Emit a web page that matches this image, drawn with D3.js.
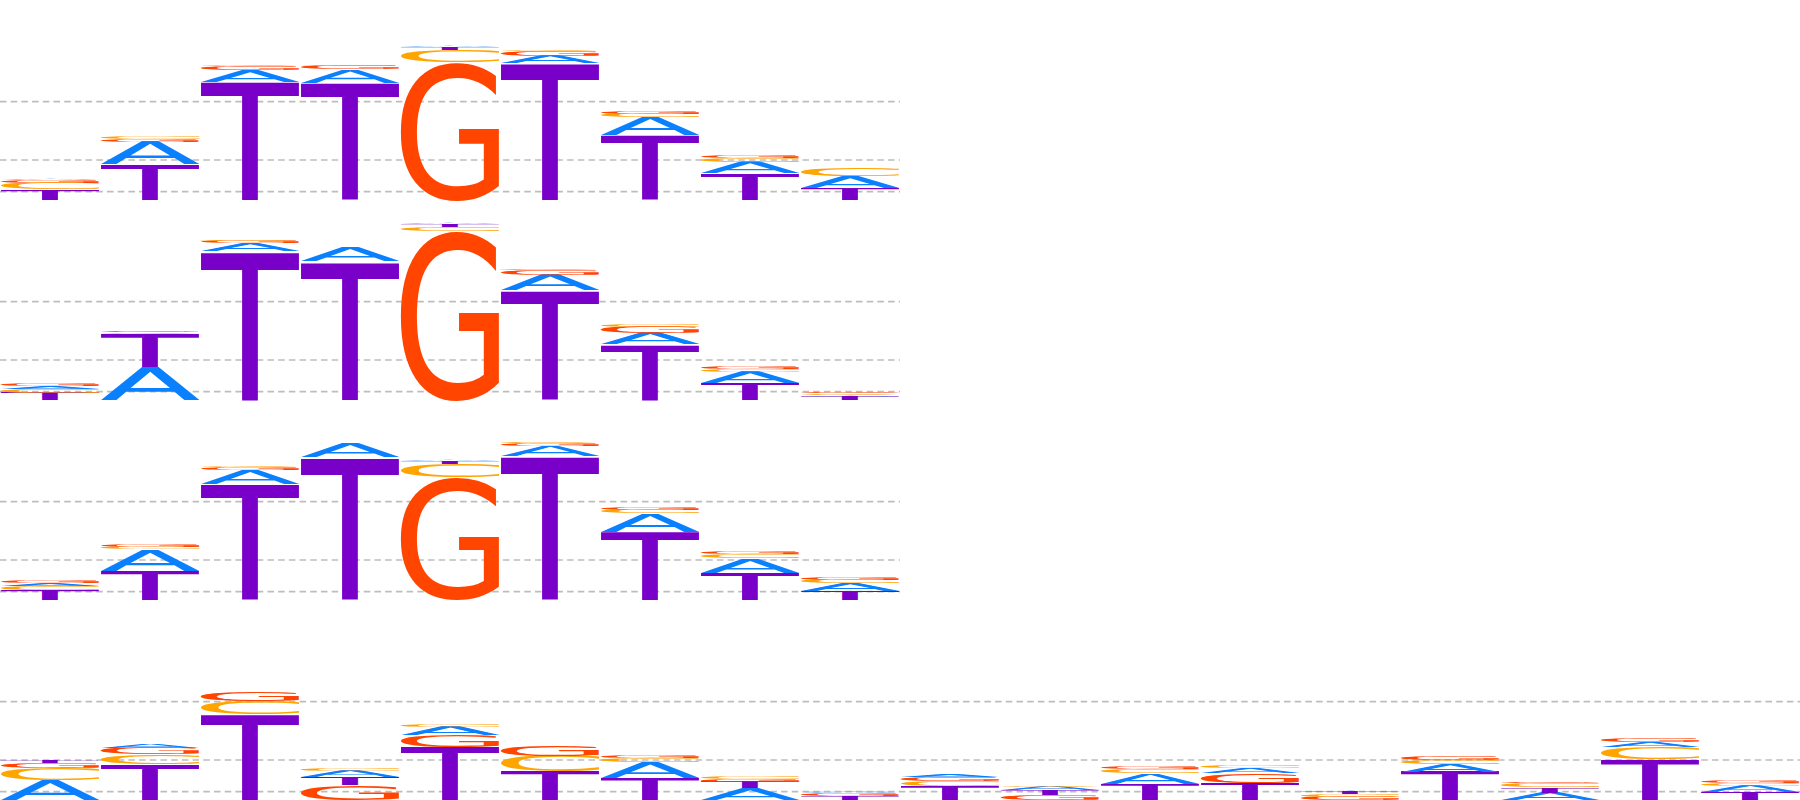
<!DOCTYPE html>
<html>
<head>
<meta charset="utf-8">
<script src="https://cdn.jsdelivr.net/npm/d3@7"></script>
<style>
  html, body { margin: 0; padding: 0; background: #ffffff; }
  svg { display: block; }
</style>
</head>
<body>
<svg id="chart" width="1800" height="800"></svg>
<script>
// ---- data (information content in bits, per position) ----
const bases = ["A", "C", "G", "T"];
const baseColors = ["#0A80FF", "#FFA500", "#FF4500", "#7800C8"];

// Row 1 (9 positions)
const row1A = [0.020, 0.272, 0.140, 0.160, 0.006, 0.088, 0.212, 0.140, 0.140];
const row1C = [0.072, 0.026, 0.012, 0.012, 0.140, 0.012, 0.040, 0.040, 0.090];
const row1G = [0.032, 0.028, 0.048, 0.040, 1.660, 0.060, 0.030, 0.032, 0.006];
const row1T = [0.132, 0.428, 1.420, 1.408, 0.036, 1.640, 0.780, 0.320, 0.144];

// Row 2 (9 positions)
const row2A = [0.034, 0.397, 0.088, 0.164, 0.006, 0.180, 0.136, 0.140, 0.020];
const row2C = [0.044, 0.022, 0.006, 0.003, 0.052, 0.006, 0.030, 0.036, 0.020];
const row2G = [0.026, 0.020, 0.032, 0.004, 2.028, 0.060, 0.072, 0.030, 0.018];
const row2T = [0.088, 0.396, 1.790, 1.668, 0.032, 1.320, 0.672, 0.200, 0.040];

// Row 3 (9 positions)
const row3A = [0.034, 0.256, 0.172, 0.168, 0.006, 0.124, 0.220, 0.172, 0.088];
const row3C = [0.050, 0.026, 0.012, 0.003, 0.164, 0.008, 0.040, 0.052, 0.040];
const row3G = [0.030, 0.024, 0.030, 0.003, 1.468, 0.036, 0.032, 0.036, 0.028];
const row3T = [0.120, 0.352, 1.388, 1.712, 0.036, 1.728, 0.820, 0.328, 0.112];

// Row 4 (18 positions)
const row4A = [0.240, 0.040, 0.004, 0.072, 0.100, 0.004, 0.184, 0.140, 0.018,
               0.022, 0.045, 0.128, 0.060, 0.012, 0.088, 0.088, 0.060, 0.072];
const row4C = [0.140, 0.116, 0.156, 0.024, 0.024, 0.192, 0.048, 0.030, 0.012,
               0.060, 0.012, 0.048, 0.024, 0.032, 0.054, 0.048, 0.148, 0.036];
const row4G = [0.068, 0.072, 0.112, 0.180, 0.140, 0.128, 0.036, 0.034, 0.028,
               0.048, 0.062, 0.032, 0.112, 0.040, 0.050, 0.020, 0.048, 0.024];
const row4T = [0.024, 0.432, 1.032, 0.100, 0.640, 0.340, 0.268, 0.080, 0.052,
               0.168, 0.054, 0.192, 0.208, 0.028, 0.340, 0.064, 0.492, 0.100];

// reference lines (bits)
const gridValues = [0.1, 0.48, 1.18];

const rows = [
  { A: row1A, C: row1C, G: row1G, T: row1T },
  { A: row2A, C: row2C, G: row2G, T: row2T },
  { A: row3A, C: row3C, G: row3G, T: row3T },
  { A: row4A, C: row4C, G: row4G, T: row4T }
];

// ---- layout ----
const rowHeight = 200;
const colWidth = 100;
const svg = d3.select("#chart");

const color = d3.scaleOrdinal().domain(bases).range(baseColors);
const y = d3.scaleLinear().domain([0, 2.4]).range([0, rowHeight]); // bits -> px height

// glyph ink metrics via canvas
const FONT = "'DejaVu Sans', 'Liberation Sans', sans-serif";
const cv = document.createElement("canvas").getContext("2d");
cv.font = "100px " + FONT;
const metrics = {};
bases.forEach(b => {
  const m = cv.measureText(b);
  metrics[b] = {
    left: m.actualBoundingBoxLeft,
    right: m.actualBoundingBoxRight,
    ascent: m.actualBoundingBoxAscent,
    descent: m.actualBoundingBoxDescent
  };
});

rows.forEach((row, ri) => {
  const n = row.A.length;
  const x = d3.scaleBand().domain(d3.range(n)).range([0, n * colWidth]).padding(0);
  const baseline = (ri + 1) * rowHeight;
  const g = svg.append("g").attr("class", "row row" + (ri + 1));

  // dashed reference lines
  g.selectAll("line.grid").data(gridValues).join("line")
    .attr("class", "grid")
    .attr("x1", 0).attr("x2", n * colWidth)
    .attr("y1", d => baseline - y(d)).attr("y2", d => baseline - y(d))
    .attr("stroke", "#bdbdbd").attr("stroke-width", 1.6)
    .attr("stroke-dasharray", "6.5,4.2");

  // stacks: largest letter at the bottom
  const stacks = d3.range(n).map(i => {
    const items = bases.map(b => ({ base: b, v: row[b][i] }))
      .sort((a, b) => b.v - a.v);
    let acc = 0;
    items.forEach(it => { it.y0 = acc; acc += it.v; it.y1 = acc; it.pos = i; });
    return items;
  });

  const col = g.selectAll("g.col").data(stacks).join("g").attr("class", "col");
  col.selectAll("text").data(d => d.filter(it => it.v > 0)).join("text")
    .text(d => d.base)
    .attr("font-family", FONT)
    .attr("font-size", 100)
    .attr("fill", d => color(d.base))
    .attr("transform", d => {
      const m = metrics[d.base];
      const inkW = m.left + m.right;
      const inkH = m.ascent + m.descent;
      const w = x.bandwidth();
      const h = y(d.y1) - y(d.y0);
      const top = baseline - y(d.y1);
      const sx = w / inkW, sy = h / inkH;
      return `translate(${x(d.pos)},${top}) scale(${sx},${sy}) translate(${m.left},${m.ascent})`;
    });
});
</script>
</body>
</html>
